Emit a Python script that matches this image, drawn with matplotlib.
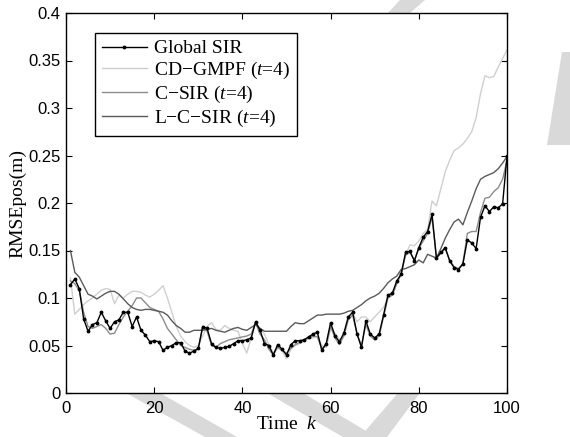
import matplotlib
matplotlib.use("Agg")
import matplotlib.pyplot as plt
from matplotlib.patches import Polygon
from matplotlib.ticker import FuncFormatter

plt.rcParams['mathtext.fontset'] = 'custom'
plt.rcParams['mathtext.it'] = 'Liberation Serif:italic'
plt.rcParams['mathtext.rm'] = 'Liberation Serif'

k = list(range(1, 101))

global_sir = [
    0.114, 0.120, 0.110, 0.078, 0.065, 0.072, 0.074, 0.085, 0.076, 0.068,
    0.075, 0.077, 0.085, 0.085, 0.070, 0.080, 0.066, 0.061, 0.054, 0.055,
    0.054, 0.045, 0.048, 0.050, 0.053, 0.053, 0.044, 0.042, 0.044, 0.047,
    0.070, 0.068, 0.052, 0.048, 0.047, 0.048, 0.049, 0.052, 0.055, 0.055,
    0.056, 0.058, 0.075, 0.066, 0.052, 0.050, 0.040, 0.051, 0.046, 0.040,
    0.051, 0.055, 0.055, 0.056, 0.059, 0.062, 0.064, 0.045, 0.052, 0.074,
    0.060, 0.054, 0.063, 0.080, 0.085, 0.062, 0.048, 0.076, 0.062, 0.058,
    0.062, 0.082, 0.103, 0.105, 0.118, 0.125, 0.148, 0.149, 0.139, 0.153,
    0.164, 0.170, 0.188, 0.142, 0.148, 0.153, 0.139, 0.132, 0.130, 0.136,
    0.161, 0.158, 0.152, 0.185, 0.197, 0.191, 0.196, 0.195, 0.199, 0.249,
]

cd_gmpf = [
    0.121, 0.083, 0.088, 0.093, 0.097, 0.100, 0.104, 0.108, 0.110, 0.109,
    0.094, 0.103, 0.100, 0.104, 0.107, 0.107, 0.106, 0.103, 0.101, 0.104,
    0.108, 0.113, 0.100, 0.085, 0.070, 0.060, 0.054, 0.050, 0.048, 0.050,
    0.060, 0.070, 0.074, 0.067, 0.066, 0.071, 0.068, 0.066, 0.065, 0.052,
    0.042, 0.058, 0.074, 0.068, 0.062, 0.051, 0.042, 0.048, 0.044, 0.036,
    0.046, 0.050, 0.052, 0.055, 0.057, 0.058, 0.060, 0.050, 0.048, 0.068,
    0.063, 0.056, 0.060, 0.078, 0.085, 0.075, 0.080, 0.080, 0.075, 0.080,
    0.085, 0.090, 0.100, 0.105, 0.115, 0.128, 0.145, 0.156, 0.155, 0.160,
    0.168, 0.172, 0.202, 0.197, 0.215, 0.233, 0.245, 0.255, 0.258, 0.262,
    0.268, 0.275, 0.290, 0.315, 0.334, 0.332, 0.333, 0.343, 0.352, 0.361,
]

c_sir = [
    0.118, 0.115, 0.108, 0.085, 0.070, 0.068, 0.070, 0.072, 0.068, 0.062,
    0.063, 0.072, 0.080, 0.086, 0.092, 0.100, 0.100, 0.095, 0.090, 0.088,
    0.086, 0.078, 0.068, 0.062, 0.056, 0.050, 0.048, 0.046, 0.045, 0.046,
    0.070, 0.065, 0.050, 0.048, 0.052, 0.054, 0.056, 0.057, 0.058, 0.059,
    0.060, 0.062, 0.074, 0.062, 0.056, 0.046, 0.040, 0.048, 0.045, 0.042,
    0.047, 0.051, 0.053, 0.056, 0.058, 0.060, 0.059, 0.047, 0.050, 0.070,
    0.058, 0.051, 0.060, 0.077, 0.082, 0.062, 0.050, 0.072, 0.060, 0.056,
    0.060, 0.080, 0.100, 0.103, 0.115, 0.125, 0.145, 0.148, 0.140, 0.152,
    0.160, 0.168, 0.185, 0.142, 0.147, 0.152, 0.140, 0.133, 0.131, 0.136,
    0.168, 0.170, 0.170, 0.190, 0.205, 0.206, 0.212, 0.216, 0.225, 0.245,
]

l_c_sir = [
    0.150, 0.127, 0.122, 0.113, 0.104, 0.102, 0.099, 0.102, 0.105, 0.107,
    0.107, 0.104, 0.099, 0.094, 0.090, 0.088, 0.087, 0.088, 0.088, 0.087,
    0.086, 0.085, 0.082, 0.076, 0.071, 0.068, 0.064, 0.064, 0.066, 0.066,
    0.066, 0.067, 0.068, 0.066, 0.065, 0.064, 0.066, 0.068, 0.069, 0.067,
    0.066, 0.069, 0.072, 0.068, 0.065, 0.065, 0.065, 0.065, 0.065, 0.065,
    0.070, 0.074, 0.073, 0.073, 0.076, 0.079, 0.082, 0.082, 0.083, 0.083,
    0.083, 0.083, 0.084, 0.086, 0.087, 0.090, 0.093, 0.097, 0.100, 0.102,
    0.105, 0.110, 0.116, 0.120, 0.123, 0.130, 0.131, 0.133, 0.135, 0.140,
    0.137, 0.146, 0.144, 0.142, 0.152, 0.163, 0.172, 0.180, 0.183, 0.177,
    0.190, 0.202, 0.215, 0.225, 0.228, 0.230, 0.232, 0.236, 0.242, 0.249,
]

x_ticks = [0, 20, 40, 60, 80, 100]
y_ticks = [0, 0.05, 0.1, 0.15, 0.2, 0.25, 0.3, 0.35, 0.4]

W, H = 570.0, 437.0
fig = plt.figure(figsize=(W / 100, H / 100), dpi=100)

# faint watermark bands behind the axes (figure pixel coords)
bands = [
    [(126, 393), (160, 393), (237, 437), (205, 437)],
    [(267, 393), (303, 393), (376, 437), (343, 437)],
    [(398, 393), (420, 393), (387, 437), (360, 437)],
    [(388, 13), (410, 13), (425, 0), (400, 0)],
    [(562, 52), (570, 52), (570, 145), (547, 145)],
]
for b in bands:
    fig.patches.append(Polygon([(px / W, 1 - py / H) for px, py in b], closed=True,
                               transform=fig.transFigure, facecolor='#d9d9d9',
                               edgecolor='none', zorder=-1))

ax = fig.add_axes([66 / W, (H - 393) / H, 441 / W, 380 / H])

ax.plot(k, global_sir, color='black', lw=1.0, marker='.', ms=3.5, label='Global SIR', zorder=5)
ax.plot(k, cd_gmpf, color='#cfcfcf', lw=1.0, label='CD$-$GMPF ($t$=4)', zorder=2)
ax.plot(k, c_sir, color='#8c8c8c', lw=1.0, label='C$-$SIR ($t$=4)', zorder=3)
ax.plot(k, l_c_sir, color='#5a5a5a', lw=1.0, label='L$-$C$-$SIR ($t$=4)', zorder=4)

ax.set_xlim(0, 100)
ax.set_ylim(0, 0.4)
ax.set_xticks(x_ticks)
ax.set_yticks(y_ticks)
ax.yaxis.set_major_formatter(FuncFormatter(lambda v, p: '%g' % v))
ax.tick_params(direction='in', length=4, width=0.8, top=True, right=True,
               labelsize=12, pad=4)
ax.tick_params(axis='x', pad=6)
for lbl in ax.get_xticklabels() + ax.get_yticklabels():
    lbl.set_fontfamily('Liberation Sans')
for sp in ax.spines.values():
    sp.set_linewidth(1.0)

ax.set_xlabel('Time  $k$', fontfamily='Liberation Serif', fontsize=14, labelpad=0)
ax.set_ylabel('RMSEpos(m)', fontfamily='Liberation Serif', fontsize=14, labelpad=1)

leg = ax.legend(loc='upper left', bbox_to_anchor=(0.066, 0.948), borderaxespad=0,
                fancybox=False, edgecolor='black', framealpha=1,
                prop={'family': 'Liberation Serif', 'size': 14},
                handlelength=2.3, handletextpad=0.35, labelspacing=0.14,
                borderpad=0.36)
leg.get_frame().set_linewidth(1.0)

fig.savefig('out.png', dpi=100)
